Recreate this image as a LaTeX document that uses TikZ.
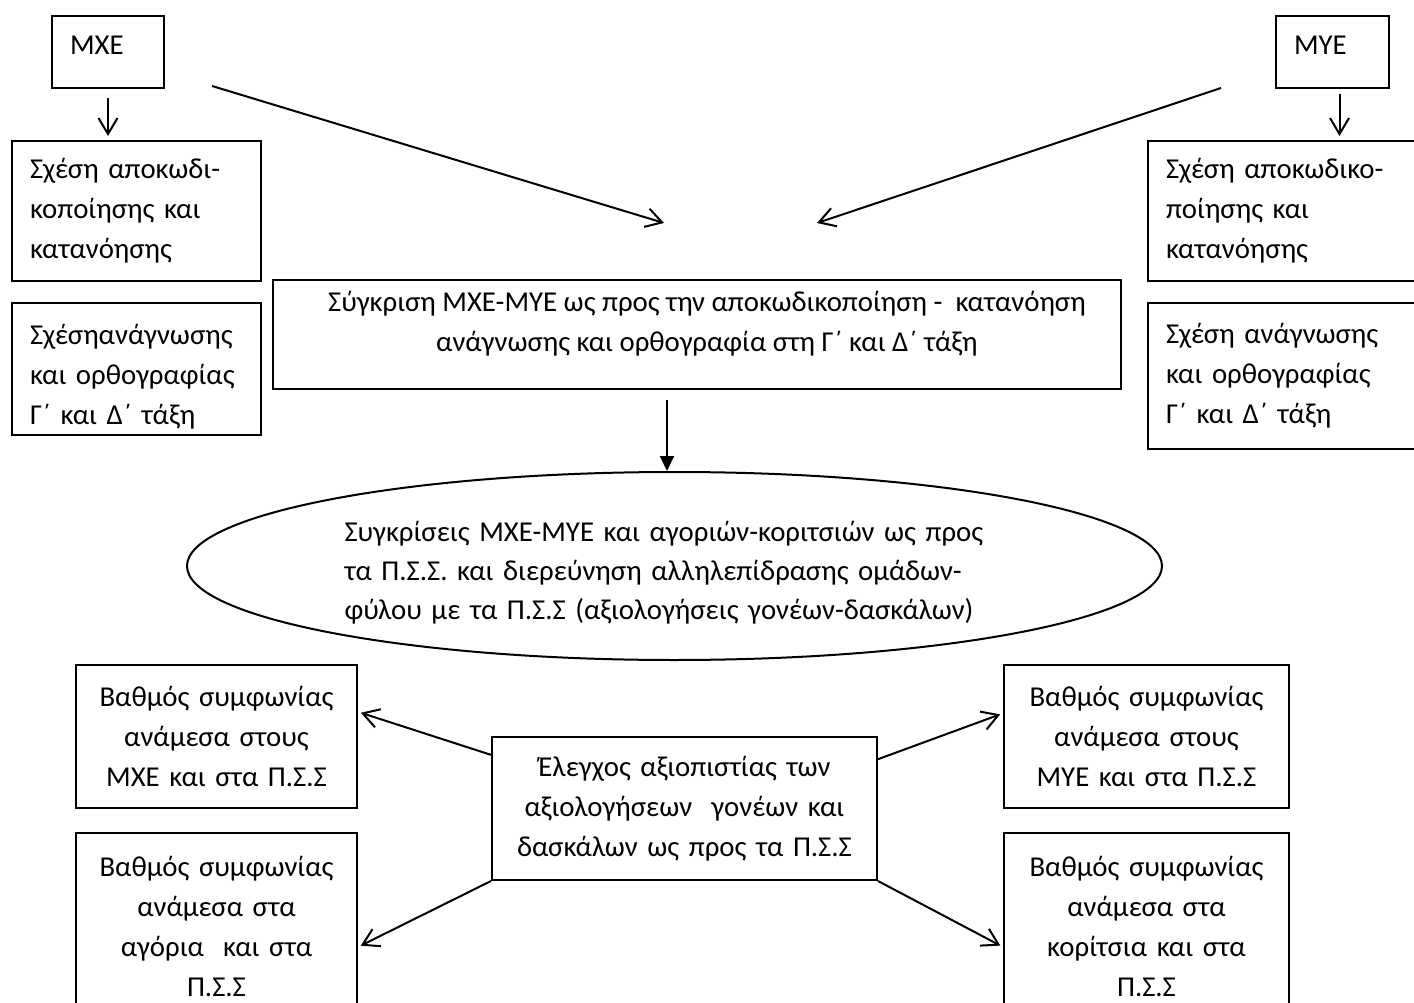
\documentclass[tikz,border=0pt]{standalone}
\usepackage{fontspec}
\setmainfont{Carlito}
\usetikzlibrary{arrows.meta,calc,shapes.geometric}

\begin{document}
\begin{tikzpicture}
[
	              x = 1pt,
	              y = -1pt,
	           ->, >= {Straight Barb[length=16pt,width=19pt]},
	     line width = 2pt,
	           font = \fontsize{28.8}{40}\selectfont,
	    box/.style = { draw=black, rectangle, inner ysep=0pt },
	   lbox/.style = { box, align=left, inner xsep=18pt },
	   cbox/.style = { box, align=center, inner xsep=0pt },
	  cloud/.style = { draw=black, ellipse, inner sep=0pt }
]
	\clip (0,0) rectangle (1414,1003);

	% nodes
	\node (mxe) at (108,52)      [lbox, text width=76pt, text depth=14pt, minimum height=72pt] {ΜΧΕ};
	\node (mye) at (1332.5,52)   [lbox, text width=77pt, text depth=14pt, minimum height=72pt] {ΜΥΕ};

	\node (dl1) at (136.5,211)   [lbox, text width=213pt, minimum height=140pt] {Σχέση αποκωδι-\\κοποίησης και\\κατανόησης};
	\node (dl2) at (136.5,369)   [box, minimum width=249pt, minimum height=132pt,
		label={[align=left, text width=213pt, inner xsep=0pt, yshift=-8pt]center:{Σχέσηανάγνωσης\\και ορθογραφίας\\Γ΄ και Δ΄ τάξη}}] {};
	\node (dr1) at (1288,211)    [lbox, text width=244pt, minimum height=140pt] {Σχέση αποκωδικο-\\ποίησης και\\κατανόησης};
	\node (dr2) at (1288,376)    [lbox, text width=244pt, minimum height=146pt] {Σχέση ανάγνωσης\\και ορθογραφίας\\Γ΄ και Δ΄ τάξη};

	\node (cmp) at (697,334.5)   [box, minimum width=848pt, minimum height=109pt,
		label={[align=center, xshift=10pt, yshift=11pt]center:{Σύγκριση ΜΧΕ-ΜΥΕ ως προς την αποκωδικοποίηση -~ κατανόηση\\ανάγνωσης και ορθογραφία στη Γ΄ και Δ΄ τάξη}}] {};

	\node (pss) at (674.5,566)   [cloud, minimum width=975pt, minimum height=188pt,
		label={[align=left, text width=680pt, xshift=10pt, yshift=-7pt, font=\fontsize{28.8}{39}\selectfont]center:{Συγκρίσεις ΜΧΕ-ΜΥΕ και αγοριών-κοριτσιών ως προς\\τα Π.Σ.Σ. και διερεύνηση αλληλεπίδρασης ομάδων-\\φύλου με τα Π.Σ.Σ (αξιολογήσεις γονέων-δασκάλων)}}] {};

	\node (chk) at (684.5,808.5) [cbox, text width=385pt, minimum height=143pt] {Έλεγχος αξιοπιστίας των\\αξιολογήσεων~ γονέων και\\δασκάλων ως προς τα Π.Σ.Σ};

	\node (gl1) at (216.5,736.5) [cbox, text width=281pt, minimum height=143pt] {Βαθμός συμφωνίας\\ανάμεσα στους\\ΜΧΕ και στα Π.Σ.Σ};
	\node (gl2) at (216.5,926)   [cbox, text width=281pt, minimum height=186pt] {Βαθμός συμφωνίας\\ανάμεσα στα\\αγόρια~ και στα\\Π.Σ.Σ};
	\node (gr1) at (1146.5,736.5)[cbox, text width=285pt, minimum height=143pt] {Βαθμός συμφωνίας\\ανάμεσα στους\\ΜΥΕ και στα Π.Σ.Σ};
	\node (gr2) at (1146.5,926)  [cbox, text width=285pt, minimum height=186pt] {Βαθμός συμφωνίας\\ανάμεσα στα\\κορίτσια και στα\\Π.Σ.Σ};

	\coordinate (lfrom) at (212,86);
	\coordinate (lto)   at (664,223);
	\coordinate (rfrom) at (1221,88);
	\coordinate (rto)   at (817,223);
	\coordinate (dtop)  at (667,400);

	% edges
	\draw [shorten <=9pt, shorten >=4pt] (mxe.south) -- (mxe.south |- dl1.north);
	\draw [shorten <=5pt, shorten >=4pt] ($(mye.south)+(7,0)$) -- ($(mye.south |- dr1.north)+(7,0)$);
	\draw (lfrom) -- (lto);
	\draw (rfrom) -- (rto);
	\draw [-{Triangle[length=15pt,width=14pt]}] (dtop) -- (dtop |- pss.north);

	\draw [shorten >=3pt] ($(chk.north west)!0.13!(chk.south west)$) -- ($(gl1.north east)!0.33!(gl1.south east)$);
	\draw [shorten >=3pt] (chk.south west) -- ($(gl2.north east)+(0,115)$);
	\draw [shorten >=3pt] ($(chk.north east)!0.16!(chk.south east)$) -- ($(gr1.north west)!0.34!(gr1.south west)$);
	\draw [shorten >=3pt] (chk.south east) -- ($(gr2.north west)+(0,115)$);

\end{tikzpicture}
\end{document}
